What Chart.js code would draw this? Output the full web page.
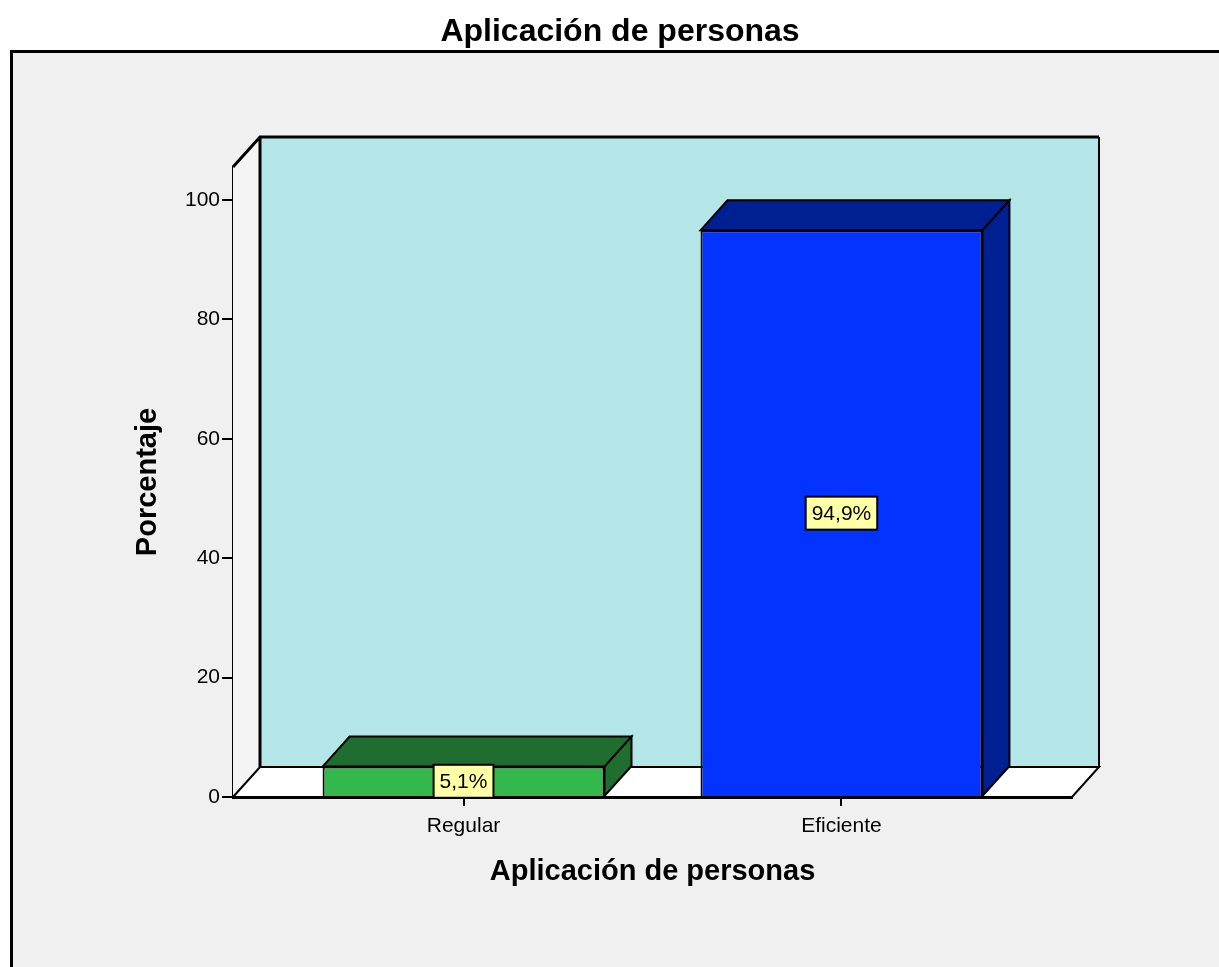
<!DOCTYPE html>
<html lang="es">
<head>
    <meta charset="UTF-8">
    <title>Aplicación de personas</title>
    <style>
        body { margin: 0; background: #fff; }
        canvas { display: block; }
    </style>
</head>
<body>
    <canvas id="chart" width="1219" height="967"></canvas>

    <script src="https://cdn.jsdelivr.net/npm/chart.js"></script>
    <script>
        const chartTitle = 'Aplicación de personas';
        const categories = ['Regular', 'Eficiente'];
        const percentages = [5.1, 94.9];
        const yTicks = [0, 20, 40, 60, 80, 100];

        const frontColors = ['#33b84c', '#0433ff'];
        const darkColors = ['#1f6e2f', '#001f91'];
        const FONT = '"Liberation Sans", Arial, sans-serif';
        const DX = 27, DY = -30; // 3D depth

        function fmt(v) {
            return v.toFixed(1).replace('.', ',') + '%';
        }

        function poly(ctx, pts, fill, stroke, lw) {
            ctx.beginPath();
            ctx.moveTo(pts[0][0], pts[0][1]);
            for (let i = 1; i < pts.length; i++) ctx.lineTo(pts[i][0], pts[i][1]);
            ctx.closePath();
            if (fill) { ctx.fillStyle = fill; ctx.fill(); }
            if (stroke) { ctx.strokeStyle = stroke; ctx.lineWidth = lw || 2; ctx.lineJoin = 'miter'; ctx.stroke(); }
        }

        // grey frame, title, back wall, side wall and floor
        const framePlugin = {
            id: 'frame3d',
            beforeDraw(chart) {
                const ctx = chart.ctx;
                ctx.save();
                ctx.fillStyle = '#f0f0f0';
                ctx.fillRect(10, 50, chart.width - 10, chart.height - 50);
                ctx.strokeStyle = '#000';
                ctx.lineWidth = 3;
                ctx.beginPath();
                ctx.moveTo(11.5, chart.height);
                ctx.lineTo(11.5, 51.5);
                ctx.lineTo(chart.width, 51.5);
                ctx.stroke();

                ctx.fillStyle = '#000';
                ctx.font = 'bold 32px ' + FONT;
                ctx.textAlign = 'center';
                ctx.textBaseline = 'middle';
                ctx.fillText(chartTitle, 620, 32);
                ctx.restore();
            },
            beforeDatasetsDraw(chart) {
                const ctx = chart.ctx;
                const a = chart.chartArea;
                ctx.save();
                // back wall
                poly(ctx, [[a.left + DX, a.top + DY], [a.right + DX, a.top + DY],
                           [a.right + DX, a.bottom + DY], [a.left + DX, a.bottom + DY]], '#b4e6e7', null);
                // left side wall
                poly(ctx, [[a.left, a.top], [a.left + DX, a.top + DY],
                           [a.left + DX, a.bottom + DY], [a.left, a.bottom]], '#f4f4f4', null);
                // floor
                poly(ctx, [[a.left, a.bottom], [a.left + DX, a.bottom + DY],
                           [a.right + DX, a.bottom + DY], [a.right, a.bottom]], '#ffffff', '#000', 2);
                ctx.strokeStyle = '#000';
                ctx.lineWidth = 3;
                ctx.beginPath();
                ctx.moveTo(a.left, a.top);
                ctx.lineTo(a.left + DX, a.top + DY);
                ctx.lineTo(a.right + DX, a.top + DY);
                ctx.moveTo(a.left + DX, a.top + DY);
                ctx.lineTo(a.left + DX, a.bottom + DY);
                ctx.stroke();
                ctx.lineWidth = 2;
                ctx.beginPath();
                ctx.moveTo(a.right + DX, a.top + DY);
                ctx.lineTo(a.right + DX, a.bottom + DY);
                ctx.stroke();
                ctx.restore();
            },
            afterDatasetsDraw(chart) {
                const ctx = chart.ctx;
                const meta = chart.getDatasetMeta(0);
                ctx.save();
                meta.data.forEach((bar, i) => {
                    const p = bar.getProps(['x', 'y', 'base', 'width'], true);
                    const l = p.x - p.width / 2, r = p.x + p.width / 2;
                    const t = p.y, b = p.base;
                    poly(ctx, [[l, t], [l + DX, t + DY], [r + DX, t + DY], [r, t]], darkColors[i], '#000', 2);
                    poly(ctx, [[r, t], [r + DX, t + DY], [r + DX, b + DY], [r, b]], darkColors[i], '#000', 2);

                    // value label
                    const txt = fmt(percentages[i]);
                    ctx.font = '21px ' + FONT;
                    const w = ctx.measureText(txt).width + 12;
                    const h = 33;
                    const cy = (t + b) / 2;
                    ctx.fillStyle = '#ffffa6';
                    ctx.fillRect(p.x - w / 2, cy - h / 2, w, h);
                    ctx.strokeStyle = '#000';
                    ctx.lineWidth = 2;
                    ctx.strokeRect(p.x - w / 2, cy - h / 2, w, h);
                    ctx.fillStyle = '#000';
                    ctx.textAlign = 'center';
                    ctx.textBaseline = 'middle';
                    ctx.fillText(txt, p.x, cy + 1);
                });
                ctx.restore();
            }
        };

        new Chart(document.getElementById('chart'), {
            type: 'bar',
            data: {
                datasets: [{
                    data: percentages.map((v, i) => ({ x: i, y: v })),
                    backgroundColor: frontColors,
                    borderColor: '#000',
                    borderWidth: 2,
                    barPercentage: 0.746,
                    categoryPercentage: 1
                }]
            },
            plugins: [framePlugin],
            options: {
                responsive: false,
                animation: false,
                layout: { padding: { left: 0, right: 147, top: 167, bottom: 0 } },
                plugins: {
                    legend: { display: false },
                    tooltip: { enabled: false },
                    title: { display: false }
                },
                scales: {
                    x: {
                        type: 'linear',
                        offset: false,
                        min: -0.61,
                        max: 1.61,
                        afterBuildTicks: s => { s.ticks = categories.map((c, i) => ({ value: i })); },
                        afterFit: s => { s.height = 170; },
                        ticks: {
                            callback: v => categories[v],
                            color: '#000',
                            padding: 8,
                            font: { family: FONT, size: 21 }
                        },
                        grid: { offset: false, drawOnChartArea: false, drawTicks: true, tickLength: 9, color: '#000', lineWidth: 2 },
                        border: { display: true, color: '#000', width: 3 },
                        title: {
                            display: true,
                            text: chartTitle,
                            color: '#000',
                            font: { family: FONT, size: 29, weight: 'bold' },
                            padding: { top: 0, bottom: 77.6 }
                        }
                    },
                    y: {
                        min: 0,
                        max: 105.5,
                        afterBuildTicks: s => { s.ticks = yTicks.map(v => ({ value: v })); },
                        afterFit: s => { s.width = 233; },
                        ticks: {
                            color: '#000',
                            padding: 2,
                            font: { family: FONT, size: 21 }
                        },
                        grid: { drawOnChartArea: false, drawTicks: true, tickLength: 11, color: '#000', lineWidth: 2 },
                        border: { display: true, color: '#000', width: 3 },
                        title: {
                            display: true,
                            text: 'Porcentaje',
                            color: '#000',
                            font: { family: FONT, size: 29, weight: 'bold' },
                            padding: { top: 130.6, bottom: 0 }
                        }
                    }
                }
            }
        });
    </script>
</body>
</html>
